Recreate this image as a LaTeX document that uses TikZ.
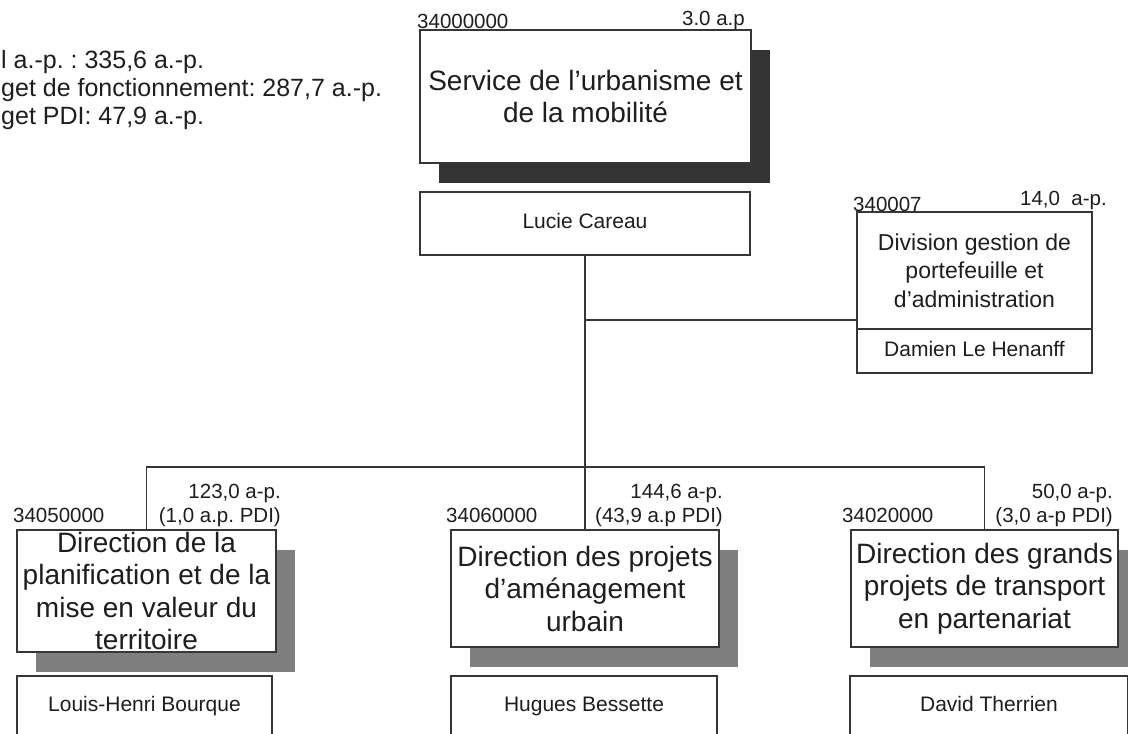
\documentclass[tikz,border=0pt]{standalone}
\usepackage{fontspec}
\setmainfont{Liberation Sans}
\usetikzlibrary{shadows}
\definecolor{linec}{HTML}{363636}
\definecolor{txtc}{HTML}{1E1E1E}
\definecolor{shdark}{HTML}{333333}
\definecolor{shgray}{HTML}{7F7F7F}
\frenchspacing
\begin{document}
\begin{tikzpicture}[x=1pt,y=-1pt,
  conn/.style={draw=linec, line width=1.6pt},
  box/.style={draw=linec, line width=1.6pt, fill=white, inner sep=0pt, align=center, text=txtc},
  bigbox/.style={box, font=\fontsize{28}{32.5}\selectfont},
  darkshadow/.style={drop shadow={shadow xshift=19pt, shadow yshift=-20pt, fill=shdark, opacity=1}},
  grayshadow/.style={drop shadow={shadow xshift=19pt, shadow yshift=-19.5pt, fill=shgray, opacity=1}},
  namebox/.style={box, font=\fontsize{21}{25}\selectfont, text height=15.3pt, text depth=4.4pt},
  lbl/.style={inner sep=0pt, text=txtc, font=\fontsize{20.5}{24}\selectfont},
  info/.style={inner sep=0pt, text=txtc, font=\fontsize{25}{28}\selectfont, anchor=base west}]
\clip (0,0) rectangle (1128,734);
\fill[white] (0,0) rectangle (1128,734);

% top-left budget text
\node[info] (t1) at (1,68) {l a.-p. : 335,6 a.-p.};
\node[info] (t2) at (1,96) {get de fonctionnement: 287,7 a.-p.};
\node[info] (t3) at (1,124) {get PDI: 47,9 a.-p.};

% main service
\node[bigbox, darkshadow, minimum width=331, minimum height=133] (svc) at (585.5,96.5)
  {Service de l’urbanisme et\\de la mobilité};
\node[lbl, anchor=base west] (svcnum) at (417,28) {34000000};
\node[lbl, anchor=base east] (svcap) at (745,25) {3.0 a.p};
\node[namebox, minimum width=330, minimum height=63] (lucie) at (585,223.5) {Lucie Careau};

% division
\node[box, font=\fontsize{23}{28.5}\selectfont, minimum width=235, minimum height=117] (divt) at (974.5,270.5)
  {Division gestion de\\portefeuille et\\d’administration};
\node[namebox, minimum width=235, minimum height=44] (divp) at (974.5,351) {Damien Le Henanff};
\node[lbl, anchor=base west] (divnum) at (853,211) {340007};
\node[lbl, anchor=base east] (divap) at (1107,205) {14,0\ \ a-p.};

% directions
\node[bigbox, grayshadow, minimum width=259, minimum height=122] (dpl) at (146.5,591)
  {Direction de la\\planification et de la\\mise en valeur du\\territoire};
\node[bigbox, grayshadow, minimum width=268, minimum height=117] (dpa) at (585,588.5)
  {Direction des projets\\d’aménagement\\urbain};
\node[bigbox, grayshadow, minimum width=267, minimum height=117] (dgp) at (984.5,588.5)
  {Direction des grands\\projets de transport\\en partenariat};

\node[lbl, anchor=base west] (n1) at (13,522) {34050000};
\node[lbl, anchor=base east] (a1) at (281,498) {123,0 a-p.};
\node[lbl, anchor=base east] (b1) at (281,522) {(1,0 a.p. PDI)};
\node[lbl, anchor=base west] (n2) at (446,522) {34060000};
\node[lbl, anchor=base east] (a2) at (723,498) {144,6 a-p.};
\node[lbl, anchor=base east] (b2) at (723,522) {(43,9 a.p PDI)};
\node[lbl, anchor=base west] (n3) at (842,522) {34020000};
\node[lbl, anchor=base east] (a3) at (1113,498) {50,0 a-p.};
\node[lbl, anchor=base east] (b3) at (1113,522) {(3,0 a-p PDI)};

% persons
\node[namebox, minimum width=255, minimum height=60] (p1) at (144.5,706) {Louis-Henri Bourque};
\node[namebox, minimum width=266, minimum height=60] (p2) at (584,706) {Hugues Bessette};
\node[namebox, minimum width=278, minimum height=60] (p3) at (989,706) {David Therrien};

% connectors
\coordinate (jd) at (585,320);
\coordinate (bus) at (585,467);
\draw[conn] (lucie.south) -- (dpa.north);
\draw[conn] (jd) -- (jd -| divt.west);
\draw[conn] (dpl.north) |- (bus) -| (dgp.north);
\end{tikzpicture}
\end{document}
